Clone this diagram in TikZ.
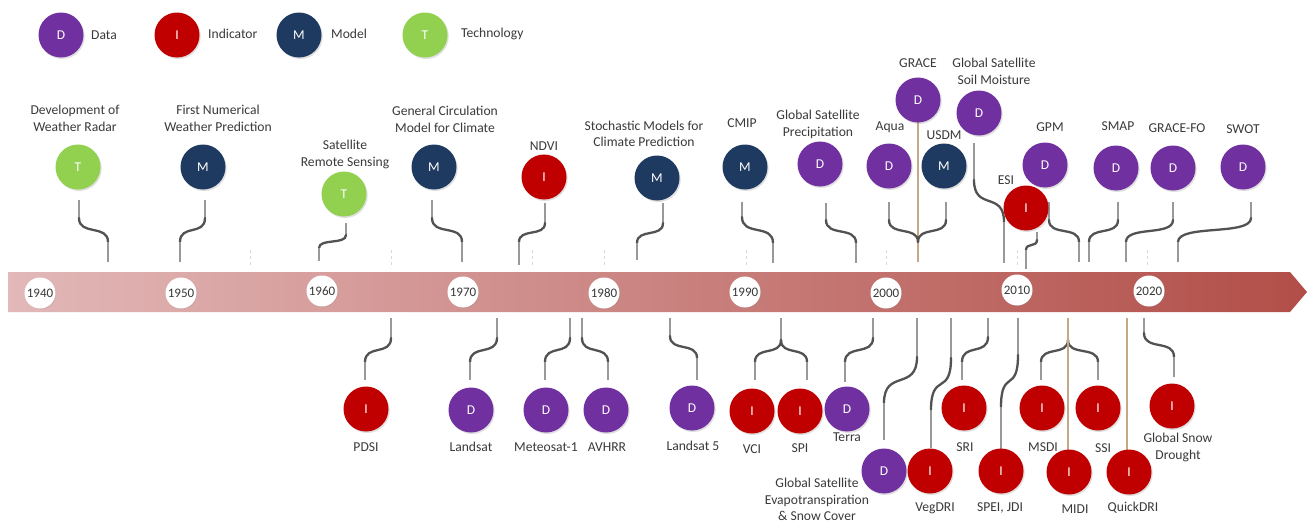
\documentclass[tikz,border=0pt]{standalone}
\usepackage{fontspec}
\setmainfont{Carlito}
\usetikzlibrary{shadows}
\definecolor{cD}{HTML}{7030A0}
\definecolor{cI}{HTML}{C00000}
\definecolor{cM}{HTML}{1F3A60}
\definecolor{cT}{HTML}{92D050}
\definecolor{txt}{HTML}{3A3A3A}
\definecolor{tanline}{HTML}{C4A888}
\definecolor{bandL}{HTML}{E2B8B8}
\definecolor{bandR}{HTML}{B24E48}
\tikzset{
 ev/.style={circle, minimum size=45pt, inner sep=0pt, text=white, font=\fontsize{13.5}{13.5}\selectfont,
   drop shadow={opacity=0.25, shadow xshift=1.2pt, shadow yshift=-1.5pt}},
 evD/.style={ev, fill=cD},
 evI/.style={ev, fill=cI},
 evM/.style={ev, fill=cM},
 evT/.style={ev, fill=cT},
 lbl/.style={text=txt, font=\fontsize{13.6}{16.5}\selectfont, align=center, inner sep=0pt},
 yr/.style={circle, fill=white, minimum size=31pt, inner sep=0pt, text=black!78, font=\fontsize{13}{12}\selectfont,
   drop shadow={opacity=0.2, shadow xshift=0.8pt, shadow yshift=-0.8pt}},
 connthin/.style={draw=gray!80, line width=1.1pt},
 connthick/.style={draw=black!68, line width=2.3pt, line cap=round},
 tanstyle/.style={draw=tanline, line width=1.2pt},
 tickline/.style={draw=gray!30, line width=0.5pt, dashed},
}
\newcommand\sconn[6]{%
  \draw[connthin] (#1,#2) -- (#1,#3);
  \draw[connthick] (#1,#3) .. controls (#1,{#3+0.75*(#5-#3)}) and (#4,{#5-0.75*(#5-#3)}) .. (#4,#5);
  \draw[connthin] (#4,#5) -- (#4,#6);}
\begin{document}
\begin{tikzpicture}[x=1pt,y=-1pt]
\useasboundingbox (0,0) rectangle (1309,522);
\fill[white] (0,0) rectangle (1309,522);

% legend
\node[evD] (lD) at (61,35) {D};
\node[lbl, anchor=west] (lDt) at (91,35) {Data};
\node[evI] (lI) at (177,35) {I};
\node[lbl, anchor=west] (lIt) at (208,34) {Indicator};
\node[evM] (lM) at (299,35) {M};
\node[lbl, anchor=west] (lMt) at (331,34) {Model};
\node[evT] (lT) at (425,35) {T};
\node[lbl, anchor=west] (lTt) at (461,34) {Technology};

% band
\shade[left color=bandL, right color=bandR] (8,272) -- (1290,272) -- (1307,292) -- (1290,312) -- (8,312) -- cycle;

% faint ticks
\foreach \xx in {250,391,532,604,746,886,1017,1147}
  \draw[tickline] (\xx,250) -- (\xx,268);

% years
\node[yr] (y40) at (40,293) {1940};
\node[yr] (y50) at (181,293) {1950};
\node[yr] (y60) at (322,291) {1960};
\node[yr] (y70) at (463,292) {1970};
\node[yr] (y80) at (604,293) {1980};
\node[yr] (y90) at (745,292) {1990};
\node[yr] (y00) at (886,293) {2000};
\node[yr] (y10) at (1017,290) {2010};
\node[yr] (y20) at (1149,291) {2020};

% tan lines
\coordinate (graceEnd) at (918,262);
\coordinate (midiTop) at (1068,318);
\coordinate (quickTop) at (1127,318);

% top connectors
\sconn{79}{200}{218}{108}{242}{262}
\sconn{205}{200}{218}{180}{242}{262}
\sconn{346}{223}{235}{319}{248}{261}
\sconn{432}{200}{218}{462}{242}{262}
\sconn{545}{203}{223}{519}{242}{265}
\sconn{663}{203}{223}{637}{243}{260}
\sconn{742}{202}{217}{773}{243}{263}
\sconn{826}{203}{220}{856}{243}{263}
\draw[tanstyle] (918,122) -- (graceEnd);
\sconn{889}{202}{220}{918}{242}{242}
\sconn{946}{202}{220}{918}{242}{242}
\sconn{974}{143}{180}{1004}{222}{263}
\sconn{1037}{232}{240}{1026}{250}{269}
\sconn{1049}{202}{220}{1079}{242}{262}
\sconn{1118}{202}{220}{1089}{242}{262}
\sconn{1173}{202}{220}{1126}{242}{262}
\sconn{1251}{202}{218}{1178}{242}{262}

% bottom connectors
\sconn{391}{318}{338}{365}{362}{380}
\sconn{497}{318}{338}{470}{362}{380}
\sconn{570}{318}{338}{545}{362}{380}
\sconn{582}{318}{338}{608}{362}{380}
\sconn{670}{318}{336}{697}{358}{380}
\draw[connthin] (781,318) -- (781,340);
\sconn{781}{340}{340}{755}{362}{380}
\sconn{781}{340}{340}{807}{362}{380}
\sconn{873}{318}{338}{845}{362}{382}
\sconn{917}{318}{357}{884}{403}{440}
\sconn{951}{318}{358}{931}{410}{448}
\sconn{988}{318}{337}{962}{362}{380}
\sconn{1018}{318}{355}{1001}{407}{449}
\sconn{1068}{340}{340}{1041}{362}{380}
\sconn{1068}{340}{340}{1098}{362}{380}
\draw[tanstyle] (midiTop) -- (1068,450);
\draw[tanstyle] (quickTop) -- (1127,450);
\sconn{1144}{318}{333}{1174}{357}{377}

% top events
\node[evT] (radar) at (78,167) {T};
\node[lbl] (radarL) at (75,118.5) {Development of\\Weather Radar};
\node[evM] (nwp) at (203,167) {M};
\node[lbl] (nwpL) at (218,118.5) {First Numerical\\Weather Prediction};
\node[evT] (srs) at (344,194) {T};
\node[lbl] (srsL) at (345,154.5) {Satellite\\Remote Sensing};
\node[evM] (gcm) at (434,167) {M};
\node[lbl] (gcmL) at (445,119.5) {General Circulation\\Model for Climate};
\node[evI] (ndvi) at (544,177) {I};
\node[lbl] (ndviL) at (544,146) {NDVI};
\node[evM] (stoch) at (657,178) {M};
\node[lbl] (stochL) at (644,134) {Stochastic Models for\\Climate Prediction};
\node[evM] (cmip) at (745,167) {M};
\node[lbl] (cmipL) at (742,123) {CMIP};
\node[evD] (gsp) at (820,164) {D};
\node[lbl] (gspL) at (818,124.5) {Global Satellite\\Precipitation};
\node[evD] (aqua) at (889,166) {D};
\node[lbl] (aquaL) at (890,127) {Aqua};
\node[evD] (grace) at (918,100) {D};
\node[lbl] (graceL) at (918,63) {GRACE};
\node[evM] (usdm) at (944,166) {M};
\node[lbl] (usdmL) at (944,135) {USDM};
\node[evD] (gssm) at (979,113) {D};
\node[lbl] (gssmL) at (994,71.5) {Global Satellite\\Soil Moisture};
\node[evD] (gpm) at (1045,165) {D};
\node[lbl] (gpmL) at (1050,127) {GPM};
\node[evI] (esi) at (1026,208) {I};
\node[lbl] (esiL) at (1006,180) {ESI};
\node[evD] (smap) at (1116,168) {D};
\node[lbl] (smapL) at (1118,126) {SMAP};
\node[evD] (gfo) at (1173,168) {D};
\node[lbl] (gfoL) at (1177,128) {GRACE-FO};
\node[evD] (swot) at (1243,167) {D};
\node[lbl] (swotL) at (1243,129) {SWOT};

% bottom events
\node[evI] (pdsi) at (366,409) {I};
\node[lbl] (pdsiL) at (366,447) {PDSI};
\node[evD] (landsat) at (471,410) {D};
\node[lbl] (landsatL) at (471,447) {Landsat};
\node[evD] (meteo) at (546,410) {D};
\node[lbl] (meteoL) at (546,447) {Meteosat-1};
\node[evD] (avhrr) at (606,410) {D};
\node[lbl] (avhrrL) at (607,447) {AVHRR};
\node[evD] (ls5) at (692,408) {D};
\node[lbl] (ls5L) at (693,446) {Landsat 5};
\node[evI] (vci) at (752,411) {I};
\node[lbl] (vciL) at (752,449) {VCI};
\node[evI] (spi) at (800,411) {I};
\node[lbl] (spiL) at (800,448) {SPI};
\node[evD] (terra) at (847,409) {D};
\node[lbl] (terraL) at (847,437) {Terra};
\node[evD] (gset) at (884,471) {D};
\node[lbl] (gsetL) at (817,499.5) {Global Satellite\\Evapotranspiration\\\& Snow Cover};
\node[evI] (vegdri) at (930,471) {I};
\node[lbl] (vegdriL) at (935,508) {VegDRI};
\node[evI] (sri) at (964,408) {I};
\node[lbl] (sriL) at (965,447) {SRI};
\node[evI] (spei) at (1001,471) {I};
\node[lbl] (speiL) at (1000,508) {SPEI, JDI};
\node[evI] (msdi) at (1042,408) {I};
\node[lbl] (msdiL) at (1043,447) {MSDI};
\node[evI] (ssi) at (1098,408) {I};
\node[lbl] (ssiL) at (1103,448) {SSI};
\node[evI] (midi) at (1069,472) {I};
\node[lbl] (midiL) at (1075,509) {MIDI};
\node[evI] (quick) at (1129,472) {I};
\node[lbl] (quickL) at (1133,508) {QuickDRI};
\node[evI] (gsd) at (1172,406) {I};
\node[lbl] (gsdL) at (1178,447.5) {Global Snow\\Drought};
\end{tikzpicture}
\end{document}
